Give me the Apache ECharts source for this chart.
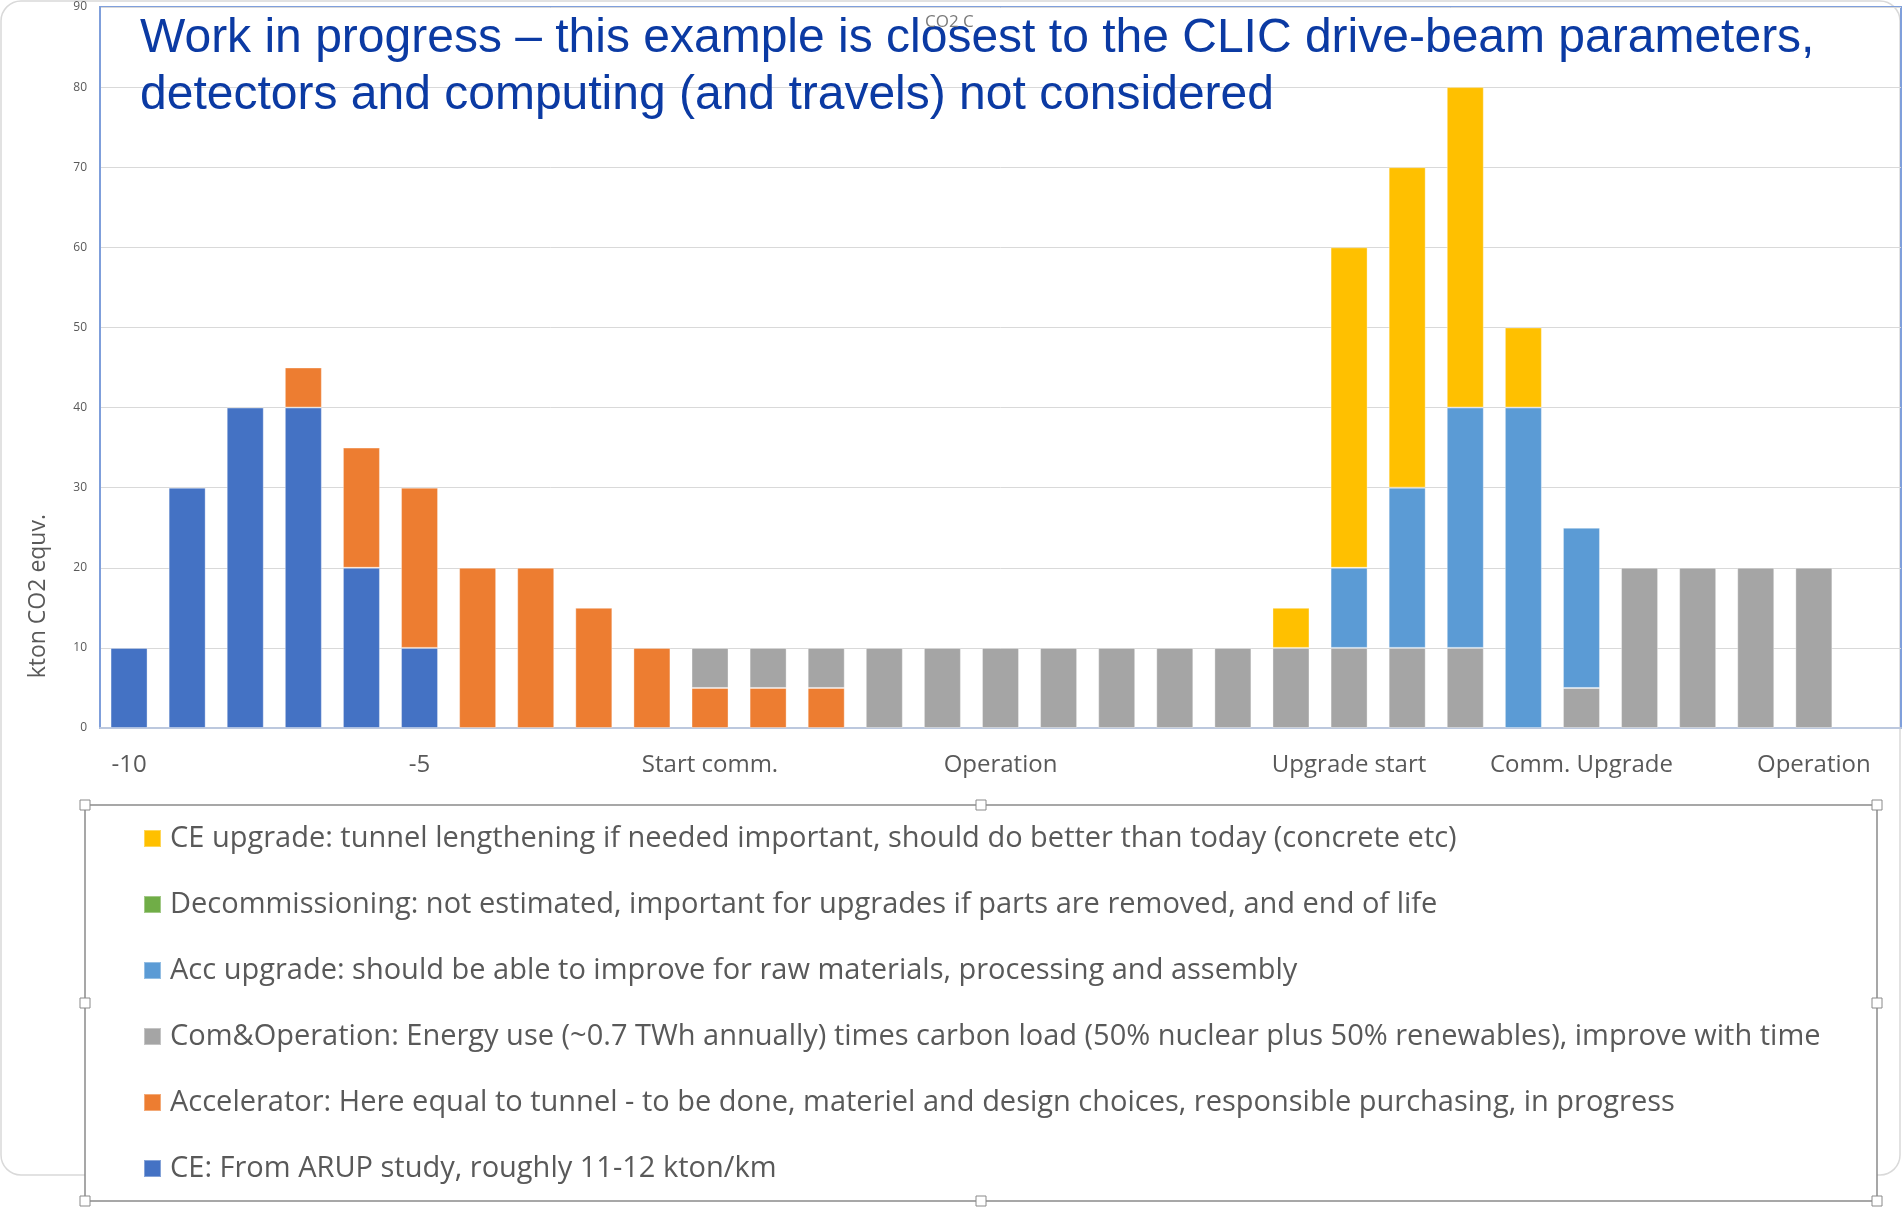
<!DOCTYPE html>
<html>
<head>
<meta charset="utf-8">
<title>CO2 - construction, operation and upgrade</title>
<script src="https://cdn.jsdelivr.net/npm/echarts@6/dist/echarts.min.js"></script>
<style>
  html, body { margin: 0; padding: 0; background: #ffffff; }
  #chart { width: 1903px; height: 1210px; }
</style>
</head>
<body>
<div id="chart"></div>
<script>
// Year labels along the timeline (blank years carry no label)
const years = [
  '-10', '', '', '', '', '-5', '', '', '', '',
  'Start comm.', '', '', '', '', 'Operation', '', '', '', '', '',
  'Upgrade start', '', '', '', 'Comm. Upgrade', '', '', '', 'Operation', ''
];

// kton CO2 equivalent per year, by contribution
const ce = [10, 30, 40, 40, 20, 10, null, null, null, null, null, null, null, null, null, null,
            null, null, null, null, null, null, null, null, null, null, null, null, null, null, null];
const accelerator = [null, null, null, 5, 15, 20, 20, 20, 15, 10, 5, 5, 5, null, null, null,
            null, null, null, null, null, null, null, null, null, null, null, null, null, null, null];
const comOperation = [null, null, null, null, null, null, null, null, null, null, 5, 5, 5, 10, 10, 10,
            10, 10, 10, 10, 10, 10, 10, 10, null, 5, 20, 20, 20, 20, null];
const accUpgrade = [null, null, null, null, null, null, null, null, null, null, null, null, null, null, null, null,
            null, null, null, null, null, 10, 20, 30, 40, 20, null, null, null, null, null];
const decommissioning = [];
const ceUpgrade = [null, null, null, null, null, null, null, null, null, null, null, null, null, null, null, null,
            null, null, null, null, 5, 40, 40, 40, 10, null, null, null, null, null, null];

const yTicks = { min: 0, max: 90, step: 10 };

const names = {
  ce: 'CE: From ARUP study, roughly 11-12 kton/km',
  accelerator: 'Accelerator: Here equal to tunnel - to be done, materiel and design choices, responsible purchasing, in progress',
  comOperation: 'Com&Operation: Energy use (~0.7 TWh annually) times carbon load (50% nuclear plus 50% renewables), improve with time',
  accUpgrade: 'Acc upgrade: should be able to improve for raw materials, processing and assembly',
  decommissioning: 'Decommissioning: not estimated, important for upgrades if parts are removed, and end of life',
  ceUpgrade: 'CE upgrade: tunnel lengthening if needed important, should do better than today (concrete etc)'
};

const colors = {
  ce: '#4472C4',
  accelerator: '#ED7D31',
  comOperation: '#A5A5A5',
  accUpgrade: '#5B9BD5',
  decommissioning: '#70AD47',
  ceUpgrade: '#FFC000'
};

const textGray = '#595959';
const uiFont = '"Open Sans", "Noto Sans", sans-serif';

function barSeries(key, data) {
  return {
    name: names[key],
    type: 'bar',
    stack: 'total',
    barWidth: 37,
    data: data,
    itemStyle: {
      color: colors[key],
      borderColor: 'rgba(255,255,255,0.35)',
      borderWidth: 1
    },
    emphasis: { disabled: true }
  };
}

// Legend frame and its resize handles
const frame = { x: 85, y: 805, w: 1792, h: 396 };
const midX = frame.x + frame.w / 2;
const midY = frame.y + frame.h / 2;
const handleSpots = [
  [frame.x, frame.y], [midX, frame.y], [frame.x + frame.w, frame.y],
  [frame.x, midY], [frame.x + frame.w, midY],
  [frame.x, frame.y + frame.h], [midX, frame.y + frame.h], [frame.x + frame.w, frame.y + frame.h]
];
const handles = handleSpots.map(function (p) {
  return {
    type: 'rect',
    z: 2,
    silent: true,
    shape: { x: p[0] - 5, y: p[1] - 5, width: 10, height: 10 },
    style: { fill: '#ffffff', stroke: '#8a8a8a', lineWidth: 1 }
  };
});

const chart = echarts.init(document.getElementById('chart'), null, { renderer: 'canvas' });

chart.setOption({
  animation: false,
  backgroundColor: '#ffffff',
  grid: {
    left: 100, top: 7, width: 1801, height: 721,
    show: true,
    borderColor: '#7F9FDB',
    borderWidth: 2,
    backgroundColor: 'transparent'
  },
  xAxis: {
    type: 'category',
    data: years,
    axisTick: { show: false },
    axisLine: { show: true, lineStyle: { color: '#BCC8DE', width: 2 } },
    axisLabel: {
      interval: 0,
      margin: 25,
      color: textGray,
      fontFamily: uiFont,
      fontSize: 24
    }
  },
  yAxis: {
    type: 'value',
    min: yTicks.min,
    max: yTicks.max,
    interval: yTicks.step,
    axisLine: { show: true, lineStyle: { color: '#7F9FDB', width: 2 } },
    axisTick: { show: false },
    axisLabel: {
      margin: 13,
      color: textGray,
      fontFamily: uiFont,
      fontSize: 12
    },
    splitLine: { lineStyle: { color: '#D9D9D9', width: 1 } }
  },
  legend: {
    orient: 'vertical',
    left: 143,
    top: 824,
    padding: 0,
    itemWidth: 17,
    itemHeight: 17,
    itemGap: 37,
    icon: 'rect',
    z: 5,
    selectedMode: false,
    textStyle: {
      color: textGray,
      fontFamily: uiFont,
      fontSize: 29,
      padding: [0, 0, 0, 4]
    },
    data: [names.ceUpgrade, names.decommissioning, names.accUpgrade,
           names.comOperation, names.accelerator, names.ce]
  },
  graphic: [
    {
      type: 'rect',
      z: -10,
      silent: true,
      shape: { x: 1, y: 1, width: 1899, height: 1174, r: 20 },
      style: { fill: 'transparent', stroke: '#D9D9D9', lineWidth: 1.5 }
    },
    {
      type: 'rect',
      z: 1,
      silent: true,
      shape: { x: frame.x, y: frame.y, width: frame.w, height: frame.h },
      style: { fill: '#ffffff', stroke: '#8a8a8a', lineWidth: 1.5 }
    }
  ].concat(handles).concat([
    {
      type: 'text',
      z: 10,
      silent: true,
      left: 27,
      top: 514,
      rotation: Math.PI / 2,
      style: {
        text: 'kton CO2 equv.',
        fill: textGray,
        font: '23px ' + uiFont,
        textAlign: 'center',
        textVerticalAlign: 'middle'
      }
    },
    {
      type: 'text',
      z: 10,
      silent: true,
      x: 140,
      y: 39,
      style: {
        text: 'Work in progress \u2013 this example is closest to the CLIC drive-beam parameters,',
        fill: '#0B3AA3',
        font: '48px "Liberation Sans", Arial, sans-serif',
        textAlign: 'left',
        textVerticalAlign: 'middle'
      }
    },
    {
      type: 'text',
      z: 10,
      silent: true,
      x: 140,
      y: 96,
      style: {
        text: 'detectors and computing (and travels) not considered',
        fill: '#0B3AA3',
        font: '48px "Liberation Sans", Arial, sans-serif',
        textAlign: 'left',
        textVerticalAlign: 'middle'
      }
    },
    {
      type: 'text',
      z: 11,
      silent: true,
      x: 925,
      y: 22,
      style: {
        text: 'CO2 C',
        fill: '#7a7a7a',
        font: '17px ' + uiFont,
        textAlign: 'left',
        textVerticalAlign: 'middle'
      }
    }
  ]),
  series: [
    barSeries('ce', ce),
    barSeries('accelerator', accelerator),
    barSeries('comOperation', comOperation),
    barSeries('accUpgrade', accUpgrade),
    barSeries('decommissioning', decommissioning),
    barSeries('ceUpgrade', ceUpgrade)
  ]
});
</script>
</body>
</html>
